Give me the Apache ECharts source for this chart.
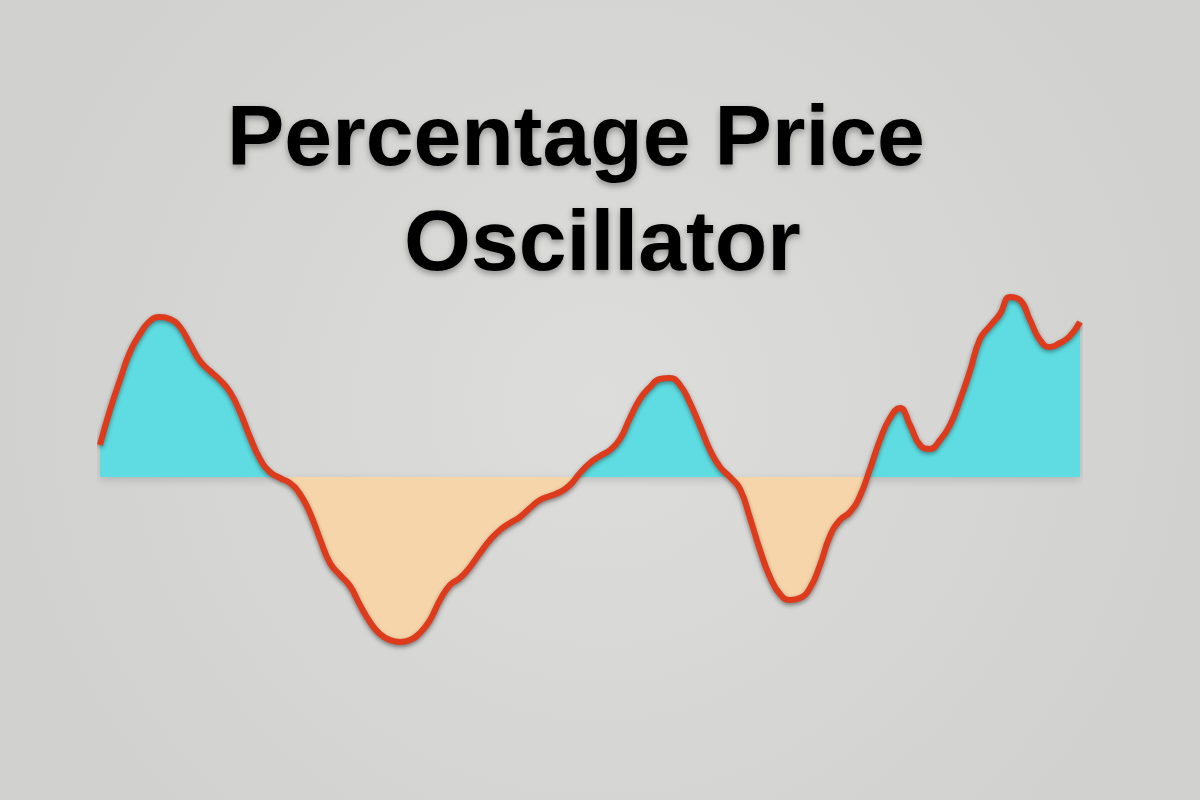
<!DOCTYPE html>
<html>
<head>
<meta charset="utf-8">
<title>Percentage Price Oscillator</title>
<script src="https://cdn.jsdelivr.net/npm/echarts@6/dist/echarts.min.js"></script>
<style>
  html, body { margin: 0; padding: 0; }
  #ppoChart { width: 1200px; height: 800px; }
</style>
</head>
<body>
<div id="ppoChart"></div>
<script>
// PPO readings, one per session
const sessions = [];
for (let i = 1; i <= 99; i++) sessions.push("D" + i);

const ppoValues = [
  0.32, 0.67, 0.97, 1.25, 1.43, 1.56, 1.60, 1.58, 1.50, 1.33,
  1.16, 1.06, 0.97, 0.85, 0.65, 0.40, 0.18, 0.05, -0.01, -0.06,
  -0.17, -0.36, -0.62, -0.86, -0.98, -1.09, -1.28, -1.45, -1.57, -1.63,
  -1.65, -1.63, -1.56, -1.43, -1.23, -1.08, -1.01, -0.90, -0.76, -0.63,
  -0.53, -0.46, -0.40, -0.31, -0.23, -0.19, -0.15, -0.08, 0.04, 0.14,
  0.21, 0.27, 0.38, 0.59, 0.78, 0.90, 0.98, 0.99, 0.92, 0.74,
  0.51, 0.27, 0.10, 0.00, -0.12, -0.41, -0.73, -1.00, -1.17, -1.23,
  -1.21, -1.11, -0.88, -0.59, -0.43, -0.35, -0.19, 0.08, 0.37, 0.59,
  0.69, 0.52, 0.32, 0.28, 0.37, 0.52, 0.77, 1.06, 1.38, 1.51,
  1.63, 1.80, 1.77, 1.57, 1.37, 1.30, 1.34, 1.41, 1.55
];

const titleLines = ["Percentage Price", "Oscillator"];

const aboveColor = "#5EDCE1";
const belowColor = "#F7D5AA";

const chart = echarts.init(document.getElementById("ppoChart"));

const titleText = {
  color: "#000000",
  fontFamily: "Liberation Sans",
  fontWeight: "bold",
  fontSize: 86,
  lineHeight: 86,
  textShadowColor: "rgba(0,0,0,0.35)",
  textShadowBlur: 6,
  textShadowOffsetY: 3,
};

chart.setOption({
  backgroundColor: {
    type: "radial",
    x: 0.5,
    y: 0.5,
    r: 0.75,
    colorStops: [
      { offset: 0, color: "#DDDDDC" },
      { offset: 1, color: "#D1D1D0" },
    ],
  },
  title: [
    { text: titleLines[0], left: 222, top: 93, textStyle: titleText },
    { text: titleLines[1], left: 399, top: 198, textStyle: titleText },
  ],
  grid: {
    left: 100,
    right: 120,
    top: 277,
    bottom: 123,
  },
  xAxis: {
    type: "category",
    data: sessions,
    boundaryGap: false,
    show: false,
  },
  yAxis: {
    type: "value",
    min: -2,
    max: 2,
    show: false,
  },
  series: [
    {
      type: "line",
      data: ppoValues,
      smooth: 0.5,
      showSymbol: false,
      lineStyle: {
        color: "#DE3B1C",
        width: 6,
        shadowColor: "rgba(0,0,0,0.4)",
        shadowBlur: 4,
        shadowOffsetY: 2,
      },
      areaStyle: {
        opacity: 1,
        color: aboveColor,
        shadowColor: "rgba(0,0,0,0.15)",
        shadowBlur: 8,
        shadowOffsetY: 3,
      },
    },
  ],
});

// split the area colour at the zero line
const zeroY = chart.convertToPixel({ yAxisIndex: 0 }, 0);
chart.setOption({
  series: [
    {
      areaStyle: {
        color: {
          type: "linear",
          global: true,
          x: 0,
          y: 0,
          x2: 0,
          y2: 800,
          colorStops: [
            { offset: 0, color: aboveColor },
            { offset: zeroY / 800, color: aboveColor },
            { offset: zeroY / 800, color: belowColor },
            { offset: 1, color: belowColor },
          ],
        },
      },
    },
  ],
});

window.addEventListener("resize", () => {
  chart.resize();
});
</script>
</body>
</html>
